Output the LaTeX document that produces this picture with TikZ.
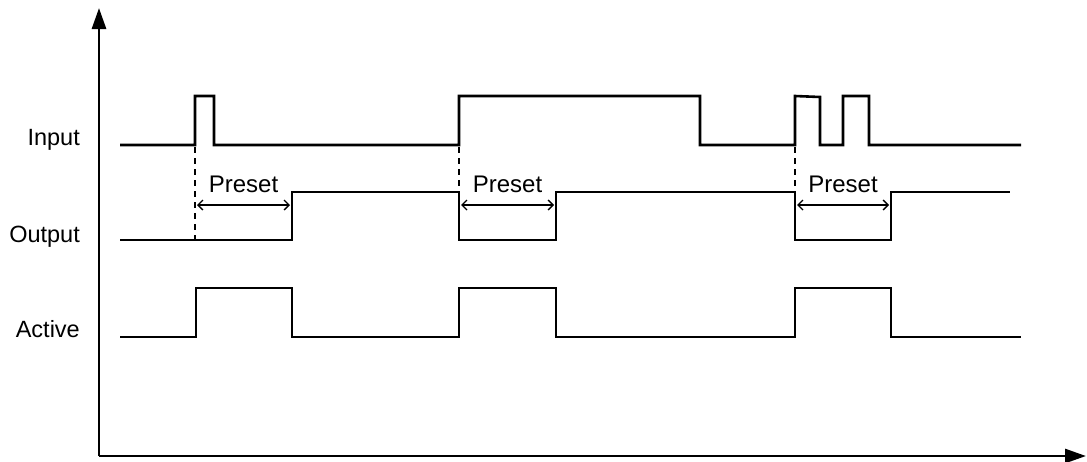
\documentclass[tikz,border=0pt]{standalone}
\usepackage{fontspec}
\setmainfont{Liberation Sans}
\usetikzlibrary{arrows.meta, positioning, calc}

\begin{document}
\begin{tikzpicture}[
        x=1pt, y=-1pt,
        signal/.style={line width=2.6pt, line join=miter},
        axis/.style={line width=2.8pt, -{Triangle[length=21pt, width=14pt]}},
        marker/.style={line width=2.4pt, dash pattern=on 6pt off 5pt},
        span/.style={line width=1.4pt, {Straight Barb[length=5pt, width=10pt]}-{Straight Barb[length=5pt, width=10pt]}},
        lbl/.style={font=\fontsize{23.5}{26}\selectfont, anchor=base east, inner sep=0pt},
        tag/.style={font=\fontsize{24}{26}\selectfont, anchor=base, inner sep=0pt}
    ]
        \useasboundingbox (0,0) rectangle (1087,461);
        % axes
        \coordinate (origin) at (99,456);
        \draw[axis] (origin) -- (99,8);
        \draw[axis] (origin) -- (1086,456);
        % signal names
        \node[lbl] (input) at (80,145) {Input};
        \node[lbl] (output) at (80,242) {Output};
        \node[lbl] (active) at (80,337) {Active};
        % waveforms
        \draw[signal] (120,145) -- (195,145) -- (195,96) -- (214,96) -- (214,145)
            -- (459,145) -- (459,96) -- (700,96) -- (700,145) -- (795,145)
            -- (795,96) -- (820,97) -- (820,145) -- (843,145) -- (843,96)
            -- (869,96) -- (869,145) -- (1021,145);
        \draw[signal] (120,240) -- (292,240) -- (292,192) -- (459,192) -- (459,240)
            -- (556,240) -- (556,192) -- (795,192) -- (795,240) -- (891,240)
            -- (891,192) -- (1010,192);
        \draw[signal] (120,337) -- (196,337) -- (196,288) -- (292,288) -- (292,337)
            -- (459,337) -- (459,288) -- (556,288) -- (556,337) -- (795,337)
            -- (795,288) -- (891,288) -- (891,337) -- (1021,337);
        % trigger markers
        \draw[marker] (195,147) -- (195,240);
        \draw[marker] (459,147) -- (459,192);
        \draw[marker] (795,147) -- (795,192);
        % preset intervals
        \foreach \name/\xa/\xb in {pa/197/290, pb/461/554, pc/797/889} {
            \coordinate (\name-l) at (\xa,205);
            \coordinate (\name-r) at (\xb,205);
            \draw[span] (\name-l) -- (\name-r);
            \node[tag] (\name-tag) at ($(\name-l)!0.5!(\name-r)+(0,-13)$) {Preset};
        }
    \end{tikzpicture}
\end{document}
